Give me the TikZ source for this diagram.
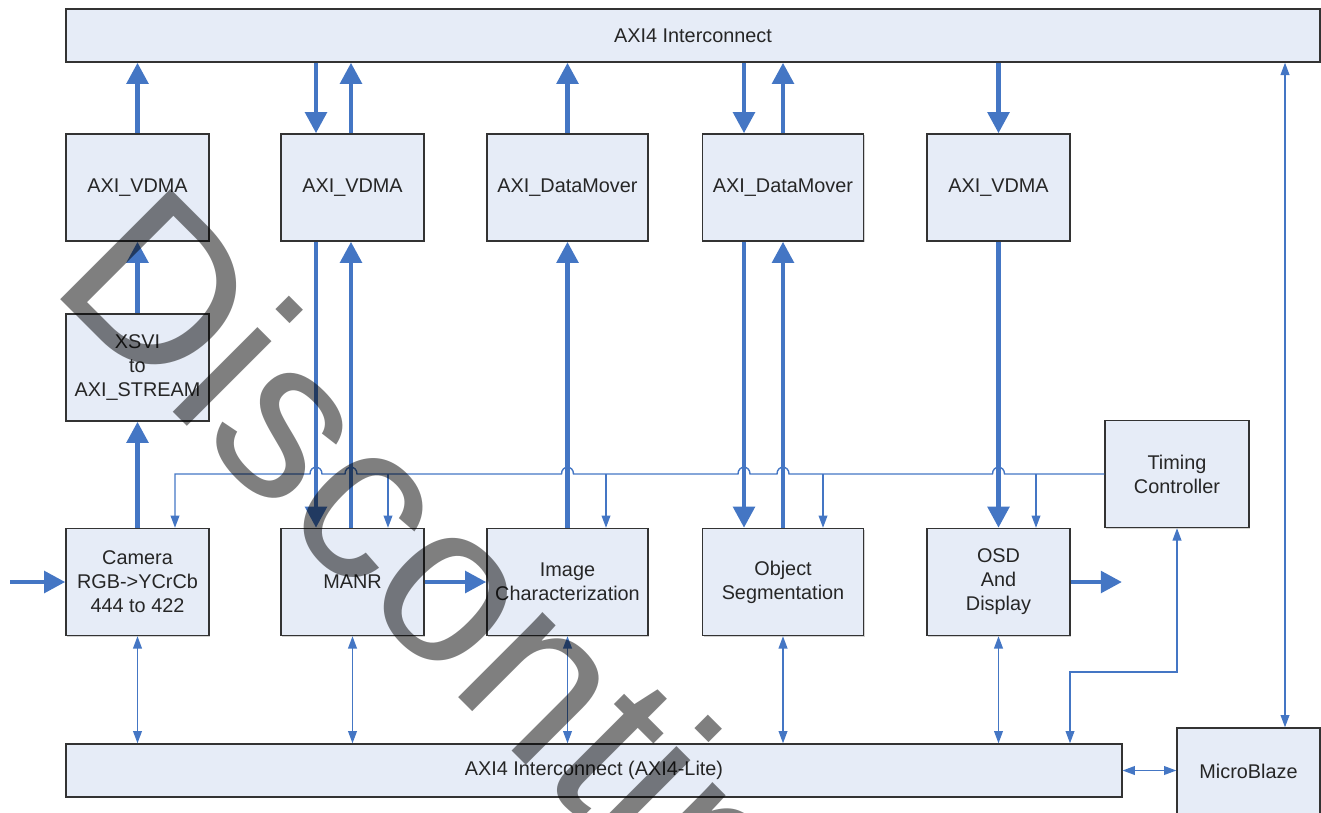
\documentclass[tikz,border=0pt]{standalone}
\usepackage{fontspec}
\setmainfont{Liberation Sans}
\usetikzlibrary{arrows.meta, shadows}
\definecolor{boxfill}{RGB}{230,236,247}
\definecolor{linkblue}{RGB}{68,118,196}
\tikzset{blk/.style = {draw = black!80, fill = boxfill, line width = 0.8pt, text = black!85,
    minimum width = 2.86cm, minimum height = 2.14cm, inner sep = 0, align = center,
    font = \fontsize{11.3}{13.6}\selectfont,
    drop shadow = {shadow xshift = .6pt, shadow yshift = -.6pt, fill = black!35}}}
\tikzset{wide/.style = {blk, minimum width = 3.22cm}}
\tikzset{bus/.style = {blk, minimum height = 1.06cm}}
\tikzset{fat/.style = {linkblue, line width = 2.8pt, -{Triangle[length = 12pt, width = 12pt]}}}
\tikzset{ctl/.style = {linkblue, line width = 0.8pt, -{Triangle[length = 7pt, width = 5pt]}}}
\tikzset{ctlb/.style = {ctl, {Triangle[length = 7pt, width = 5pt]}-{Triangle[length = 7pt, width = 5pt]}}}

\begin{document}
\begin{tikzpicture}[x = 0.02cm, y = -0.02cm]
    \useasboundingbox (0, 0) rectangle (1321, 812);

    % buses
    \node [bus, minimum width = 25.08cm] (axi) at (693, 35.5) {AXI4 Interconnect};
    \node [bus, minimum width = 21.12cm] (lite) at (594, 770.5) {AXI4 Interconnect (AXI4-Lite)};

    % top row
    \node [blk] (vdmaA) at (137.5, 187.5) {AXI\_VDMA};
    \node [blk] (vdmaB) at (352.5, 187.5) {AXI\_VDMA};
    \node [wide] (dmA) at (567.5, 187.5) {AXI\_DataMover};
    \node [wide] (dmB) at (783, 187.5) {AXI\_DataMover};
    \node [blk] (vdmaC) at (998.5, 187.5) {AXI\_VDMA};
    \node [blk] (xsvi) at (137.5, 367.5) {XSVI\\to\\AXI\_STREAM};

    % bottom row
    \node [blk] (cam) at (137.5, 582) {Camera\\RGB->YCrCb\\444 to 422};
    \node [blk] (manr) at (352.5, 582) {MANR};
    \node [wide] (imgc) at (567.5, 582) {Image\\Characterization};
    \node [wide] (objs) at (783, 582) {Object\\Segmentation};
    \node [blk] (osd) at (998.5, 582) {OSD\\And\\Display};
    \node [blk, minimum width = 2.88cm] (timing) at (1177, 474) {Timing\\Controller};
    \node [blk, minimum height = 1.72cm] (mb) at (1248.5, 771) {MicroBlaze};

    % video path
    \coordinate (vin) at (10, 582);
    \coordinate (vout) at (1122, 582);
    \draw [fat] (vin) -- (cam.west);
    \draw [fat] (cam.north) -- (xsvi.south);
    \draw [fat] (xsvi.north) -- (vdmaA.south);
    \draw [fat] (vdmaA.north) -- (vdmaA.north |- axi.south);
    \draw [fat] (316,0 |- axi.south) -- (316,0 |- vdmaB.north);
    \draw [fat] (351,0 |- vdmaB.north) -- (351,0 |- axi.south);
    \draw [fat] (316,0 |- vdmaB.south) -- (316,0 |- manr.north);
    \draw [fat] (351,0 |- manr.north) -- (351,0 |- vdmaB.south);
    \draw [fat] (manr.east) -- (imgc.west);
    \draw [fat] (imgc.north) -- (dmA.south);
    \draw [fat] (dmA.north) -- (dmA.north |- axi.south);
    \draw [fat] (744,0 |- axi.south) -- (744,0 |- dmB.north);
    \draw [fat] (783,0 |- dmB.north) -- (783,0 |- axi.south);
    \draw [fat] (744,0 |- dmB.south) -- (744,0 |- objs.north);
    \draw [fat] (783,0 |- objs.north) -- (783,0 |- dmB.south);
    \draw [fat] (vdmaC.north |- axi.south) -- (vdmaC.north);
    \draw [fat] (vdmaC.south) -- (osd.north);
    \draw [fat] (osd.east) -- (vout);

    % timing
    \draw [ctl] (timing.west) -- (1004.5, 474)
    .. controls (1004.5, 465) and (992.5, 465) .. (992.5, 474) -- (789, 474)
    .. controls (789, 465) and (777, 465) .. (777, 474) -- (750, 474)
    .. controls (750, 465) and (738, 465) .. (738, 474) -- (573.5, 474)
    .. controls (573.5, 465) and (561.5, 465) .. (561.5, 474) -- (357, 474)
    .. controls (357, 465) and (345, 465) .. (345, 474) -- (322, 474)
    .. controls (322, 465) and (310, 465) .. (310, 474) -- (175, 474)
    -- (175,0 |- cam.north);
    \draw [ctl] (388,0 |- timing.west) -- (388,0 |- manr.north);
    \draw [ctl] (606,0 |- timing.west) -- (606,0 |- imgc.north);
    \draw [ctl] (823,0 |- timing.west) -- (823,0 |- objs.north);
    \draw [ctl] (1036,0 |- timing.west) -- (1036,0 |- osd.north);

    % control bus
    \draw [ctlb] (cam.south) -- (cam.south |- lite.north);
    \draw [ctlb] (manr.south) -- (manr.south |- lite.north);
    \draw [ctlb] (imgc.south) -- (imgc.south |- lite.north);
    \draw [ctlb] (objs.south) -- (objs.south |- lite.north);
    \draw [ctlb] (osd.south) -- (osd.south |- lite.north);
    \draw [ctlb] (1070,0 |- lite.north) -- (1070, 672) -- (timing.south |- 0,672) -- (timing.south);
    \draw [ctlb] (lite.east) -- (lite.east -| mb.west);
    \draw [ctlb] (1285,0 |- mb.north) -- (1285,0 |- axi.south);

    \node [rotate = -45, anchor = base west, inner sep = 0, text = black, text opacity = .5,
    font = \fontsize{129}{129}\selectfont] (stamp) at (47, 286) {Discontinued};
\end{tikzpicture}
\end{document}
